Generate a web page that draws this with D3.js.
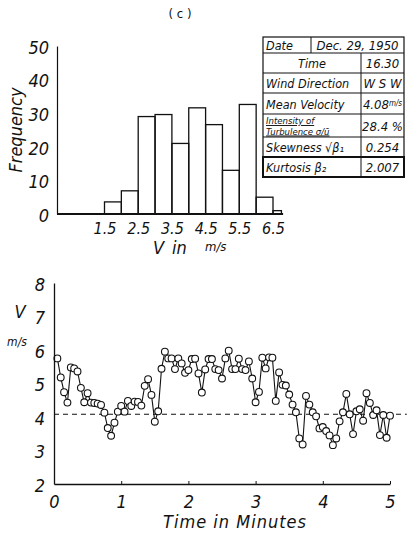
<!DOCTYPE html>
<html>
<head>
<meta charset="utf-8" />
<title>(c) Dec. 29, 1950</title>
<style>
  body { margin: 0; background: #fff; }
  svg text { font-family: "DejaVu Sans Condensed", "Liberation Sans Narrow", "DejaVu Sans", sans-serif; font-stretch: condensed; font-style: italic; fill: #111; }
</style>
</head>
<body>
<svg width="411" height="538"></svg>

<script src="https://cdn.jsdelivr.net/npm/d3@7/dist/d3.min.js"></script>
<script>
// histogram: bin edges (m/s) and frequency in each bin
var binEdges = [1.5, 2.0, 2.5, 3.0, 3.5, 4.0, 4.5, 5.0, 5.5, 6.0, 6.5, 6.75];
var frequency = [3.6, 6.9, 29, 29.6, 21, 31.6, 26.6, 13, 32.6, 5, 1];
var histTicksX = [1.5, 2.5, 3.5, 4.5, 5.5, 6.5];
var histTicksY = [0, 10, 20, 30, 40, 50];

// record: one reading every 3 s (0.05 min), V in m/s
var sampleStep = 0.05;
var velocity = [
  5.75, 5.18, 4.74, 4.43, 5.48, 5.45, 5.36, 4.87, 4.44, 4.71,
  4.43, 4.42, 4.40, 4.36, 4.13, 3.67, 3.44, 3.83, 4.16, 4.33,
  4.16, 4.48, 4.33, 4.46, 4.45, 4.34, 4.93, 5.13, 4.66, 3.86,
  4.17, 5.44, 5.95, 5.75, 5.75, 5.43, 5.75, 5.60, 5.32, 5.40,
  5.73, 5.74, 5.30, 4.73, 5.42, 5.73, 5.73, 5.43, 5.40, 5.15,
  5.75, 5.98, 5.43, 5.43, 5.74, 5.43, 5.40, 5.66, 5.15, 4.44,
  4.75, 5.77, 5.45, 5.78, 5.77, 4.48, 5.33, 4.96, 4.94, 4.67,
  4.37, 4.14, 3.36, 3.18, 4.63, 4.37, 4.14, 4.02, 3.66, 3.70,
  3.58, 3.45, 3.16, 3.36, 3.87, 4.14, 4.69, 4.08, 3.49, 4.17,
  4.23, 3.89, 4.71, 4.42, 4.06, 4.20, 3.46, 4.06, 3.38, 4.04
];
var meanVelocity = 4.08;
var lineTicksX = [0, 1, 2, 3, 4, 5];
var lineTicksY = [2, 3, 4, 5, 6, 7, 8];

// table of statistics
var tableLabels = ['Date', 'Time', 'Wind Direction', 'Mean Velocity', 'Intensity of|Turbulence σ/ū', 'Skewness √β₁', 'Kurtosis      β₂'];
var tableValues = ['Dec. 29, 1950', '16.30', 'W S W', '4.08', '28.4 %', '0.254', '2.007'];

var svg = d3.select('svg');

svg.append('text').attr('x', 180).attr('y', 18).attr('text-anchor', 'middle')
    .style('font-size', '13px').style('font-style', 'normal').text('( c )');

// ---------- histogram ----------
var xh = d3.scaleLinear().domain([1.5, 6.5]).range([104.5, 273]);
var yh = d3.scaleLinear().domain([0, 50]).range([214, 46]);

var bins = frequency.map(function (f, i) {
    return { x0: binEdges[i], x1: binEdges[i + 1], f: f };
});

svg.append('g').selectAll('rect')
    .data(bins)
    .enter()
    .append('rect')
    .attr('x', function (d) { return xh(d.x0); })
    .attr('y', function (d) { return yh(d.f); })
    .attr('width', function (d) { return xh(d.x1) - xh(d.x0); })
    .attr('height', function (d) { return yh(0) - yh(d.f); })
    .attr('fill', 'none')
    .attr('stroke', '#111')
    .attr('stroke-width', 1.3);

var hAxisY = svg.append('g').attr('transform', 'translate(57,0)')
    .call(d3.axisLeft(yh).tickValues(histTicksY).tickSize(0).tickPadding(8));
hAxisY.select('.domain').attr('stroke', '#111').attr('stroke-width', 1.2);
hAxisY.selectAll('text').style('font-size', '18px').attr('dy', '0.4em');

var hAxisX = svg.append('g').attr('transform', 'translate(0,214)')
    .call(d3.axisBottom(xh).tickValues(histTicksX).tickFormat(d3.format('.1f')).tickSize(0).tickPadding(9));
hAxisX.select('.domain').attr('d', 'M57,0H' + xh(6.8)).attr('stroke', '#111').attr('stroke-width', 1.8);
hAxisX.selectAll('text').style('font-size', '16px');

svg.append('text').attr('transform', 'translate(22,130) rotate(-90)')
    .attr('text-anchor', 'middle').style('font-size', '18px').text('Frequency');

svg.append('text').attr('x', 153).attr('y', 254).style('font-size', '18px').text('V');
svg.append('text').attr('x', 172).attr('y', 254).style('font-size', '18px').text('in');
svg.append('text').attr('x', 205).attr('y', 251).style('font-size', '13px').text('m/s');

// ---------- table ----------
var rowEdges = [37, 53, 73, 93, 114, 137, 157, 177];
var tx0 = 263, tx1 = 404;
var table = svg.append('g');
table.append('rect').attr('x', tx0).attr('y', rowEdges[0])
    .attr('width', tx1 - tx0).attr('height', rowEdges[7] - rowEdges[0])
    .attr('fill', 'none').attr('stroke', '#111').attr('stroke-width', 1.2);
table.append('rect').attr('x', tx0).attr('y', rowEdges[6])
    .attr('width', tx1 - tx0).attr('height', rowEdges[7] - rowEdges[6])
    .attr('fill', 'none').attr('stroke', '#111').attr('stroke-width', 2);

tableLabels.forEach(function (lab, i) {
    var top = rowEdges[i], bot = rowEdges[i + 1];
    var split = i === 0 ? 311 : 361;
    if (i > 0) {
        table.append('line').attr('x1', tx0).attr('x2', tx1).attr('y1', top).attr('y2', top)
            .attr('stroke', '#111').attr('stroke-width', 1);
    }
    table.append('line').attr('x1', split).attr('x2', split).attr('y1', top).attr('y2', bot)
        .attr('stroke', '#111').attr('stroke-width', 1);
    var mid = (top + bot) / 2;
    var parts = lab.split('|');
    if (parts.length > 1) {
        parts.forEach(function (p, j) {
            table.append('text').attr('x', tx0 + 3).attr('y', top + 10 + j * 10.5)
                .style('font-size', '9.5px').style('text-decoration', 'underline').text(p);
        });
    } else {
        table.append('text')
            .attr('x', i === 1 ? (tx0 + split) / 2 : tx0 + 3)
            .attr('text-anchor', i === 1 ? 'middle' : 'start')
            .attr('y', mid + 5).style('font-size', '12.5px').text(lab);
    }
    var vtx = table.append('text').attr('x', (split + tx1) / 2).attr('y', mid + 5)
        .attr('text-anchor', 'middle').style('font-size', '13px');
    vtx.append('tspan').text(tableValues[i]);
    if (i === 3) {
        vtx.append('tspan').attr('dy', -3).style('font-size', '8px').text('m/s');
    }
});

// ---------- time record ----------
var xl = d3.scaleLinear().domain([0, 5]).range([54, 390]);
var yl = d3.scaleLinear().domain([2, 8]).range([484, 283]);

var pts = velocity.map(function (v, i) {
    return { t: (i + 1) * sampleStep, v: v };
});

svg.append('line')
    .attr('x1', xl(0)).attr('x2', xl(5.25))
    .attr('y1', yl(meanVelocity)).attr('y2', yl(meanVelocity))
    .attr('stroke', '#111').attr('stroke-width', 1.1)
    .attr('stroke-dasharray', '5,4');

svg.append('path')
    .datum(pts)
    .attr('fill', 'none')
    .attr('stroke', '#111')
    .attr('stroke-width', 1.1)
    .attr('d', d3.line()
        .x(function (d) { return xl(d.t); })
        .y(function (d) { return yl(d.v); }));

svg.append('g').selectAll('circle')
    .data(pts)
    .enter()
    .append('circle')
    .attr('cx', function (d) { return xl(d.t); })
    .attr('cy', function (d) { return yl(d.v); })
    .attr('r', 3.4)
    .attr('fill', '#fff')
    .attr('stroke', '#111')
    .attr('stroke-width', 1.1);

var lAxisY = svg.append('g').attr('transform', 'translate(54,0)')
    .call(d3.axisLeft(yl).tickValues(lineTicksY).tickFormat(d3.format('d')).tickSize(0).tickPadding(9));
lAxisY.select('.domain').attr('stroke', '#111').attr('stroke-width', 1.3);
lAxisY.selectAll('text').style('font-size', '18px').attr('dy', '0.4em');

var lAxisX = svg.append('g').attr('transform', 'translate(0,484)')
    .call(d3.axisBottom(xl).tickValues(lineTicksX).tickFormat(d3.format('d')).tickSizeInner(-3).tickSizeOuter(0).tickPadding(7));
lAxisX.select('.domain').attr('stroke', '#111').attr('stroke-width', 1.3);
lAxisX.selectAll('line').attr('stroke', '#111');
lAxisX.selectAll('text').style('font-size', '18px').attr('dy', '0.95em');

svg.append('text').attr('x', 20).attr('y', 318).attr('text-anchor', 'middle')
    .style('font-size', '18px').text('V');
svg.append('text').attr('x', 17).attr('y', 346).attr('text-anchor', 'middle')
    .style('font-size', '12px').text('m/s');
svg.append('text').attr('x', 235).attr('y', 528).attr('text-anchor', 'middle')
    .style('font-size', '18px').style('letter-spacing', '1px').text('Time in Minutes');
</script>
</body>
</html>
